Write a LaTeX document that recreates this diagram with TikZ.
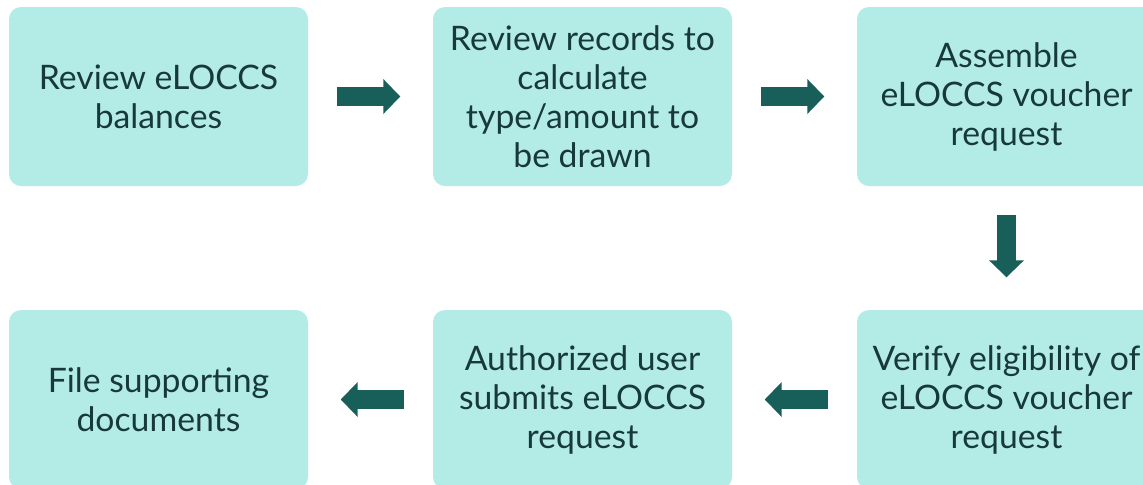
\documentclass[tikz,border=0pt]{standalone}
\usepackage{fontspec}
\setmainfont{Lato}
\usepackage{tikz}
\usetikzlibrary{arrows.meta, positioning}

\definecolor{stepfill}{HTML}{B3ECE6}
\definecolor{flowcol}{HTML}{175F58}
\definecolor{stepink}{HTML}{18393B}

\begin{document}
\begin{tikzpicture}[
  stepbox/.style={rectangle, fill=stepfill, text=stepink,
    minimum width=2.99cm, minimum height=1.79cm, rounded corners=0.12cm,
    align=center, font=\fontsize{9.6}{11.1}\selectfont},
  flow/.style={line width=0.19cm, flowcol,
    -{Triangle[length=0.17cm, width=0.34cm]},
    shorten <=0.28cm, shorten >=0.32cm}
]
  \useasboundingbox (0,0) rectangle (11.43,-4.84);
  \clip (0,0) rectangle (11.43,-4.84);

  % Top row
  \node[stepbox] (rev)  at (1.585,-0.965)  {Review eLOCCS\\balances};
  \node[stepbox] (calc) at (5.825,-0.965)  {Review records to\\calculate\\type/amount to\\be drawn};
  \node[stepbox] (asm)  at (10.065,-0.965) {Assemble\\eLOCCS voucher\\request};

  % Bottom row
  \node[stepbox] (verify) at (10.065,-3.995) {Verify eligibility of\\eLOCCS voucher\\request};
  \node[stepbox] (submit) at (5.825,-3.995)  {Authorized user\\submits eLOCCS\\request};
  \node[stepbox] (file)   at (1.585,-3.995)  {File supporting\\documents};

  % Arrows
  \foreach \a/\b in {rev/calc, calc/asm, asm/verify, verify/submit, submit/file} {
    \draw[flow] (\a) -- (\b);
  }
\end{tikzpicture}
\end{document}
